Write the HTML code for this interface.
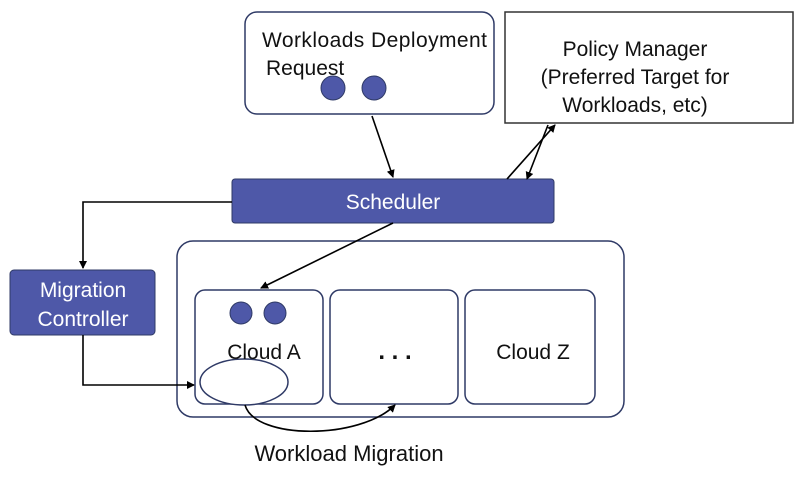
<!DOCTYPE html>
<html><head><style>
body{margin:0;background:#fff;}
svg text{font-family:"Liberation Sans",sans-serif;}
</style></head><body>
<svg width="806" height="476" viewBox="0 0 806 476" xmlns="http://www.w3.org/2000/svg">
<defs><marker id="a" markerWidth="8" markerHeight="8" refX="7" refY="4" orient="auto" markerUnits="userSpaceOnUse"><path d="M0,0 L8,4 L0,8 z" fill="#000"/></marker></defs>
<g fill="#fff" stroke="#2f3a66" stroke-width="1.5">
<rect x="245" y="12" width="249" height="102" rx="12"/>
<rect x="505" y="12" width="288" height="111" rx="0" stroke="#333"/>
<rect x="177" y="241" width="447" height="176" rx="16"/>
<rect x="195" y="290" width="128" height="114" rx="10"/>
<rect x="330" y="290" width="128" height="114" rx="10"/>
<rect x="465" y="290" width="130" height="114" rx="10"/>
<ellipse cx="244" cy="382" rx="44" ry="23"/>
</g>
<rect x="232" y="179" width="322" height="44" rx="3" fill="#4e58a8" stroke="#2f3a66"/>
<rect x="10" y="270" width="145" height="65" rx="4" fill="#4e58a8" stroke="#2f3a66"/>
<g fill="#4e58a8" stroke="#2f3a66">
<circle cx="333" cy="88" r="12"/><circle cx="374" cy="88" r="12"/>
<circle cx="241" cy="313" r="11"/><circle cx="275" cy="313" r="11"/>
</g>
<g stroke="#000" stroke-width="1.6" fill="none">
<line x1="372" y1="116" x2="393" y2="177" marker-end="url(#a)"/>
<line x1="507" y1="179" x2="555" y2="125" marker-end="url(#a)"/>
<line x1="548" y1="125" x2="527" y2="179" marker-end="url(#a)"/>
<line x1="393" y1="223" x2="261" y2="288" marker-end="url(#a)"/>
<polyline points="232,202 83,202 83,268" marker-end="url(#a)"/>
<polyline points="83,335 83,385 194,385" marker-end="url(#a)"/>
<path d="M245,405 C255,440 360,440 395,405" marker-end="url(#a)"/>
</g>
<g font-size="21" fill="#111">
<text x="262" y="47" textLength="225">Workloads Deployment</text>
<text x="266" y="75">Request</text>
<text x="635" y="56" text-anchor="middle">Policy Manager</text>
<text x="635" y="84" text-anchor="middle">(Preferred Target for</text>
<text x="635" y="112" text-anchor="middle">Workloads, etc)</text>
<text x="264" y="359" text-anchor="middle">Cloud A</text>
<text x="395" y="359" text-anchor="middle" font-size="24" font-weight="bold">. . .</text>
<text x="533" y="359" text-anchor="middle">Cloud Z</text>
<text x="349" y="461" text-anchor="middle" font-size="22">Workload Migration</text>
</g>
<g font-size="21" fill="#fff" text-anchor="middle">
<text x="393" y="209">Scheduler</text>
<text x="83" y="297">Migration</text>
<text x="83" y="326">Controller</text>
</g>
</svg>
</body></html>
